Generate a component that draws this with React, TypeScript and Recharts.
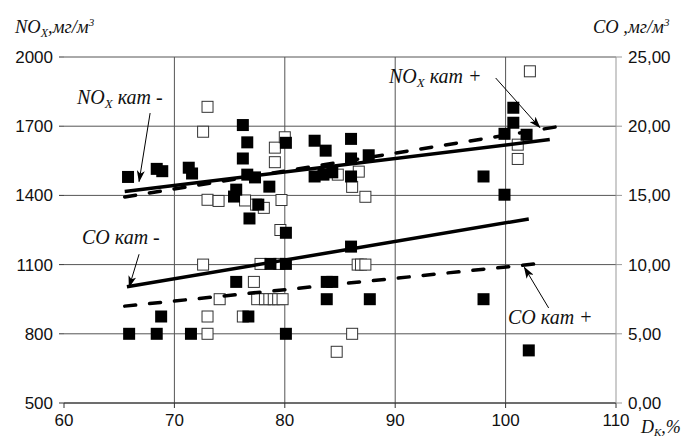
import {
  ComposedChart,
  Scatter,
  XAxis,
  YAxis,
  CartesianGrid,
  ReferenceLine,
} from "recharts";

// D_K, % axis
const xTicks = [60, 70, 80, 90, 100, 110];
const noxTicks = [500, 800, 1100, 1400, 1700, 2000];
const coTicks = [0, 5, 10, 15, 20, 25];
const gridX = [70, 80, 90, 100];

// NOx, mg/m3 (left axis)
const noxFilled = [
  { x: 65.8, y: 1480 }, { x: 68.4, y: 1515 }, { x: 68.9, y: 1505 }, { x: 71.3, y: 1520 },
  { x: 71.6, y: 1495 }, { x: 76.2, y: 1705 }, { x: 76.6, y: 1630 }, { x: 76.2, y: 1560 },
  { x: 76.6, y: 1490 }, { x: 77.3, y: 1478 }, { x: 75.6, y: 1425 }, { x: 75.4, y: 1395 },
  { x: 78.6, y: 1438 }, { x: 77.6, y: 1360 }, { x: 76.8, y: 1300 }, { x: 80.1, y: 1628 },
  { x: 82.7, y: 1637 }, { x: 83.7, y: 1594 }, { x: 82.7, y: 1482 }, { x: 83.5, y: 1490 },
  { x: 84.3, y: 1500 }, { x: 86.0, y: 1645 }, { x: 86.0, y: 1560 }, { x: 87.6, y: 1574 },
  { x: 86.0, y: 1482 }, { x: 98.0, y: 1482 }, { x: 99.9, y: 1403 }, { x: 99.9, y: 1667 },
  { x: 100.7, y: 1715 }, { x: 100.7, y: 1780 }, { x: 101.9, y: 1663 },
];
const noxOpen = [
  { x: 73.0, y: 1784 }, { x: 72.6, y: 1676 }, { x: 73.0, y: 1381 }, { x: 74.0, y: 1376 },
  { x: 76.4, y: 1378 }, { x: 77.4, y: 1360 }, { x: 78.1, y: 1346 }, { x: 79.7, y: 1380 },
  { x: 79.1, y: 1607 }, { x: 79.1, y: 1544 }, { x: 80.0, y: 1652 }, { x: 84.8, y: 1490 },
  { x: 86.7, y: 1503 }, { x: 86.1, y: 1437 }, { x: 87.3, y: 1394 }, { x: 101.1, y: 1620 },
  { x: 101.1, y: 1558 }, { x: 102.2, y: 1938 },
];

// CO, mg/m3 (right axis)
const coFilled = [
  { x: 65.9, y: 5.0 }, { x: 68.4, y: 5.0 }, { x: 71.5, y: 5.0 }, { x: 68.8, y: 6.25 },
  { x: 76.7, y: 6.25 }, { x: 75.6, y: 8.75 }, { x: 78.7, y: 10.05 }, { x: 80.1, y: 10.05 },
  { x: 80.1, y: 5.0 }, { x: 80.1, y: 12.3 }, { x: 83.8, y: 8.75 }, { x: 84.3, y: 8.75 },
  { x: 83.8, y: 7.5 }, { x: 86.0, y: 11.3 }, { x: 87.7, y: 7.5 }, { x: 98.0, y: 7.5 },
  { x: 102.1, y: 3.8 },
];
const coOpen = [
  { x: 72.6, y: 10.0 }, { x: 73.0, y: 6.25 }, { x: 73.0, y: 5.0 }, { x: 74.1, y: 7.5 },
  { x: 77.2, y: 8.75 }, { x: 77.8, y: 10.05 }, { x: 79.5, y: 10.05 }, { x: 76.2, y: 6.25 },
  { x: 77.5, y: 7.5 }, { x: 78.2, y: 7.5 }, { x: 78.6, y: 7.5 }, { x: 79.0, y: 7.5 },
  { x: 79.4, y: 7.5 }, { x: 79.8, y: 7.5 }, { x: 86.6, y: 10.0 }, { x: 86.9, y: 10.0 },
  { x: 87.3, y: 10.0 }, { x: 86.1, y: 5.0 }, { x: 84.7, y: 3.7 }, { x: 79.6, y: 12.5 },
];

// trend lines
const noxKatMinus = [{ x: 65.5, y: 1417 }, { x: 104, y: 1642 }];
const noxKatPlus = [{ x: 65.5, y: 1393 }, { x: 105, y: 1700 }];
const coKatMinus = [{ x: 65.7, y: 8.4 }, { x: 102.1, y: 13.3 }];
const coKatPlus = [{ x: 65.5, y: 7.0 }, { x: 103.3, y: 10.1 }];

// annotation arrows (left axis units): [from, to]
const arrows = [
  [{ x: 67.8, y: 1757 }, { x: 66.8, y: 1460 }],
  [{ x: 99.1, y: 1909 }, { x: 103.1, y: 1694 }],
  [{ x: 66.8, y: 1145 }, { x: 65.9, y: 1003 }],
  [{ x: 103.9, y: 912 }, { x: 101.7, y: 1088 }],
];

const tickFont = { fontSize: 17, fill: "#111", fontFamily: "'Liberation Sans', Arial, sans-serif" };

const FilledSquare = (p: any) => (
  <rect x={p.cx - 6} y={p.cy - 6} width={12} height={12} fill="#000" />
);
const OpenSquare = (p: any) => (
  <rect x={p.cx - 5.5} y={p.cy - 5.5} width={11} height={11} fill="#fff" stroke="#333" strokeWidth={1} />
);
const NoDot = () => <g />;

const trendSolid = { stroke: "#000", strokeWidth: 3.5 };
const trendDashed = { stroke: "#000", strokeWidth: 3.5, strokeDasharray: "11 14", strokeLinecap: "round" };

const serif = "'Liberation Serif', 'Times New Roman', serif";

export default function App() {
  return (
    <div style={{ position: "absolute", left: 0, top: 0, width: 693, height: 441, background: "#fff" }}>
      <svg width={0} height={0} style={{ position: "absolute" }}>
        <defs>
          <marker id="arrowHead" markerWidth={12} markerHeight={8} refX={11} refY={4} orient="auto" markerUnits="userSpaceOnUse">
            <path d="M0,0 L12,4 L0,8 L3,4 Z" fill="#000" />
          </marker>
        </defs>
      </svg>
      <ComposedChart width={693} height={441} margin={{ top: 57, right: 0, bottom: 0, left: 0 }}>
        <CartesianGrid xAxisId="x" yAxisId="nox" stroke="#555" verticalValues={gridX} />
        <XAxis
          xAxisId="x"
          type="number"
          dataKey="x"
          domain={[60, 110]}
          ticks={xTicks}
          interval={0}
          height={38}
          axisLine={{ stroke: "#333" }}
          tickLine={{ stroke: "#333" }}
          tickSize={5}
          tickMargin={6}
          tick={tickFont}
          allowDataOverflow
        />
        <YAxis
          yAxisId="nox"
          type="number"
          dataKey="y"
          domain={[500, 2000]}
          ticks={noxTicks}
          interval={0}
          width={64}
          axisLine={false}
          tickLine={{ stroke: "#333" }}
          tickSize={5}
          tickMargin={6}
          tick={tickFont}
          allowDataOverflow
        />
        <YAxis
          yAxisId="co"
          orientation="right"
          type="number"
          dataKey="y"
          domain={[0, 25]}
          ticks={coTicks}
          interval={0}
          width={77}
          axisLine={{ stroke: "#999" }}
          tickLine={{ stroke: "#999" }}
          tickSize={6}
          tickMargin={6}
          tick={{ ...tickFont, textAnchor: "start" }}
          tickFormatter={(v: number) => v.toFixed(2).replace(".", ",")}
          allowDataOverflow
        />
        <Scatter xAxisId="x" yAxisId="nox" data={noxOpen} shape={OpenSquare} isAnimationActive={false} />
        <Scatter xAxisId="x" yAxisId="co" data={coOpen} shape={OpenSquare} isAnimationActive={false} />
        <Scatter xAxisId="x" yAxisId="nox" data={noxFilled} shape={FilledSquare} isAnimationActive={false} />
        <Scatter xAxisId="x" yAxisId="co" data={coFilled} shape={FilledSquare} isAnimationActive={false} />
        <Scatter xAxisId="x" yAxisId="nox" data={noxKatMinus} shape={NoDot} line={trendSolid} isAnimationActive={false} />
        <Scatter xAxisId="x" yAxisId="nox" data={noxKatPlus} shape={NoDot} line={trendDashed} isAnimationActive={false} />
        <Scatter xAxisId="x" yAxisId="co" data={coKatMinus} shape={NoDot} line={trendSolid} isAnimationActive={false} />
        <Scatter xAxisId="x" yAxisId="co" data={coKatPlus} shape={NoDot} line={trendDashed} isAnimationActive={false} />
        {arrows.map((seg, i) => (
          <ReferenceLine
            key={i}
            xAxisId="x"
            yAxisId="nox"
            segment={seg}
            stroke="#000"
            strokeWidth={1}
            markerEnd="url(#arrowHead)"
          />
        ))}
      </ComposedChart>
      <svg
        width={693}
        height={441}
        style={{ position: "absolute", left: 0, top: 0, pointerEvents: "none" }}
        fontFamily={serif}
        fontStyle="italic"
        fill="#111"
      >
        <text x={15} y={33} fontSize={18.5}>
          NO<tspan fontSize={12} dy={4}>X</tspan>
          <tspan dy={-4}>,мг/м</tspan>
          <tspan fontSize={11} dy={-7}>3</tspan>
        </text>
        <text x={593} y={33} fontSize={18.5}>
          CO ,мг/м<tspan fontSize={11} dy={-7}>3</tspan>
        </text>
        <text x={641} y={433} fontSize={18}>
          D<tspan fontSize={11} dy={3}>K</tspan>
          <tspan dy={-3}>,%</tspan>
        </text>
        <text x={77} y={104} fontSize={20}>
          NO<tspan fontSize={13} dy={4}>X</tspan>
          <tspan dy={-4}> кат -</tspan>
        </text>
        <text x={389} y={83} fontSize={20}>
          NO<tspan fontSize={13} dy={4}>X</tspan>
          <tspan dy={-4}> кат +</tspan>
        </text>
        <text x={82} y={244} fontSize={20}>
          CO  кат -
        </text>
        <text x={508} y={324} fontSize={20}>
          CO  кат +
        </text>
      </svg>
    </div>
  );
}
